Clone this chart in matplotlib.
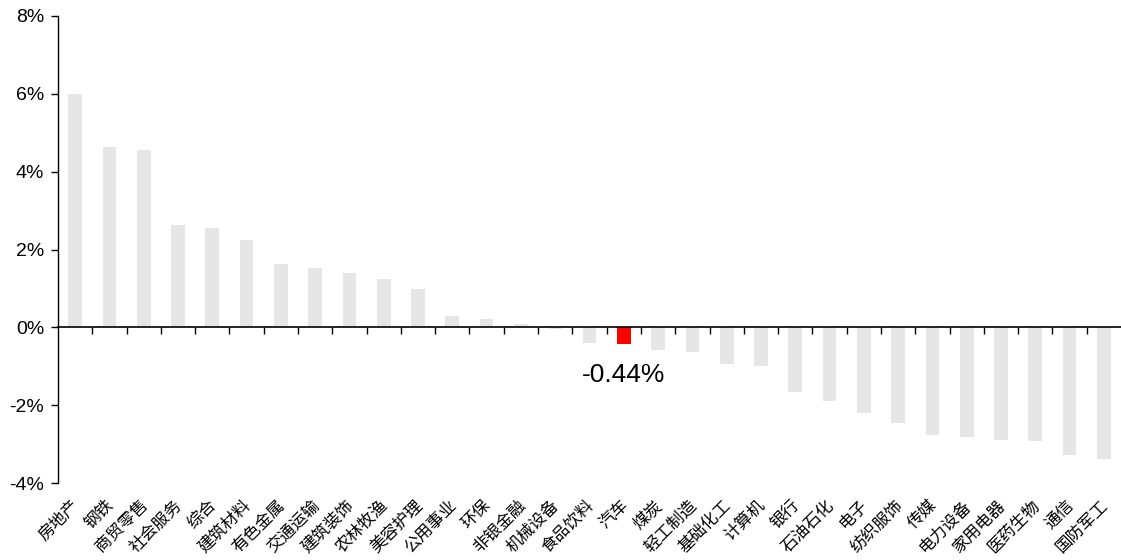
import matplotlib
matplotlib.use("Agg")
import matplotlib.pyplot as plt
import matplotlib.transforms as mtransforms
from matplotlib.ticker import FixedLocator, FuncFormatter

categories = ["房地产", "钢铁", "商贸零售", "社会服务", "综合", "建筑材料", "有色金属",
              "交通运输", "建筑装饰", "农林牧渔", "美容护理", "公用事业", "环保", "非银金融",
              "机械设备", "食品饮料", "汽车", "煤炭", "轻工制造", "基础化工", "计算机", "银行",
              "石油石化", "电子", "纺织服饰", "传媒", "电力设备", "家用电器", "医药生物",
              "通信", "国防军工"]
values = [5.99, 4.64, 4.56, 2.63, 2.56, 2.25, 1.62, 1.53, 1.39, 1.25, 0.99, 0.30, 0.21,
          0.08, -0.04, -0.39, -0.44, -0.59, -0.64, -0.95, -0.99, -1.66, -1.90, -2.19,
          -2.47, -2.77, -2.83, -2.90, -2.92, -3.29, -3.39]
highlight = "汽车"
yticks = [-4, -2, 0, 2, 4, 6, 8]

plt.rcParams['font.family'] = ['Liberation Sans', 'Noto Sans CJK SC', 'DejaVu Sans']

fig = plt.figure(figsize=(11.21, 5.60), dpi=100)
ax = fig.add_axes([58/1121, 1-483/560, 1-58/1121, (483-16)/560])

x = list(range(len(categories)))
colors = ['#FF0000' if c == highlight else '#E6E6E6' for c in categories]
ax.bar(x, values, width=0.4, color=colors, zorder=2)

ax.set_xlim(-0.5, len(categories) - 0.5)
ax.set_ylim(yticks[0], yticks[-1])
ax.set_yticks(yticks)
ax.yaxis.set_major_formatter(FuncFormatter(lambda v, p: f"{int(v)}%"))
ax.tick_params(axis='y', direction='out', length=5, width=1, labelsize=14, pad=5, colors='black')

ax.spines['top'].set_visible(False)
ax.spines['right'].set_visible(False)
ax.spines['left'].set_linewidth(1)
ax.spines['bottom'].set_position(('data', 0))
ax.spines['bottom'].set_linewidth(1.2)
ax.spines['bottom'].set_zorder(3)

ax.set_xticks([])
ax.xaxis.set_minor_locator(FixedLocator([i + 0.5 for i in range(len(categories) - 1)]))
ax.tick_params(axis='x', which='minor', direction='out', length=5, width=1)

trans = mtransforms.blended_transform_factory(ax.transData, ax.transAxes)
for i, c in enumerate(categories):
    ax.text(i - 0.12, -0.03, c, transform=trans, rotation=45, ha='right', va='top',
            rotation_mode='anchor', fontsize=12,
            family=['Noto Sans CJK SC', 'DejaVu Sans'])

hi = categories.index(highlight)
ax.annotate(f"{values[hi]:.2f}%", xy=(hi, values[hi]), xytext=(0, -13),
            textcoords='offset points', ha='center', va='top', fontsize=19)

fig.savefig("out.png", dpi=100)
